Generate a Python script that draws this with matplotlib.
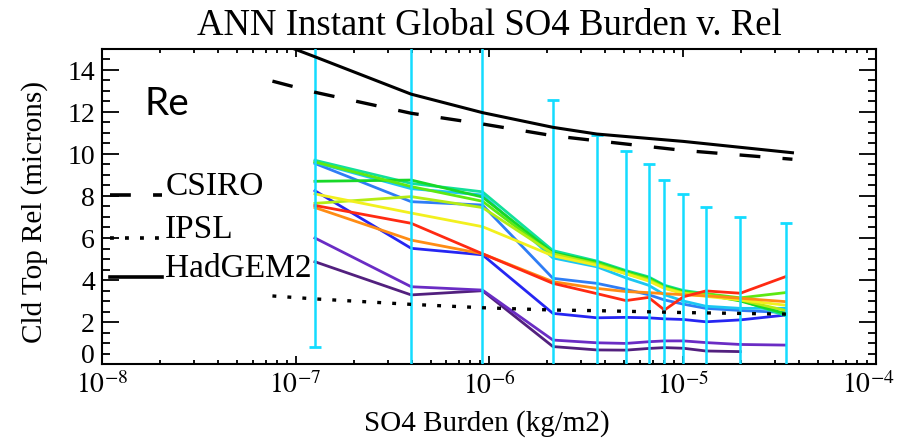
import numpy as np
import matplotlib
matplotlib.use("Agg")
import matplotlib.pyplot as plt
from matplotlib.ticker import MultipleLocator, LogLocator, NullFormatter, FixedLocator
from matplotlib.transforms import ScaledTranslation

plt.rcParams['font.family'] = ['Liberation Serif', 'DejaVu Serif']
plt.rcParams['mathtext.fontset'] = 'stix'
plt.rcParams['lines.scale_dashes'] = False

# ---- data -------------------------------------------------------------
# SO4 burden bin centres (kg/m2)
bin_x = [1.26e-7, 3.96e-7, 9.25e-7, 2.14e-6, 3.61e-6, 5.10e-6,
         6.68e-6, 8.07e-6, 1.01e-5, 1.32e-5, 1.99e-5, 3.41e-5]

# cloud-top effective radius per model (microns)
darkpurple = [4.87, 3.29, 3.49, 0.83, 0.67, 0.66, 0.74, 0.78, 0.75, 0.62, 0.59, np.nan]
purple = [6.00, 3.68, 3.52, 1.14, 1.01, 0.98, 1.06, 1.10, 1.10, 1.02, 0.93, 0.90]
royalblue = [8.25, 5.51, 5.20, 2.41, 2.20, 2.22, 2.20, 2.15, 2.12, 2.01, 2.10, 2.33]
dodgerblue = [9.55, 7.73, 7.57, 4.08, 3.84, 3.55, 3.30, 3.05, 2.85, 2.65, 2.55, 2.45]
lightblue = [9.60, 8.35, 8.05, 5.05, 4.63, 4.10, 3.75, 3.30, 3.00, 2.75, 2.65, 2.65]
springgreen = [9.70, 8.60, 8.20, 5.40, 4.90, 4.45, 4.15, 3.75, 3.50, 3.35, 3.05, 2.30]
green = [8.70, 8.76, 7.95, 5.30, 4.85, 4.40, 4.10, 3.70, 3.45, 3.30, 3.00, 2.40]
lime = [9.62, 8.45, 7.75, 5.20, 4.80, 4.35, 4.05, 3.65, 3.40, 3.35, 3.15, 3.40]
yellowgreen = [7.65, 7.97, 7.45, 5.25, 4.75, 4.30, 4.00, 3.62, 3.38, 3.28, 3.05, 2.55]
yellow = [8.10, 7.19, 6.54, 5.15, 4.70, 4.30, 3.95, 3.60, 3.35, 3.22, 3.05, 2.80]
orange = [7.45, 5.90, 5.25, 3.92, 3.60, 3.45, 3.40, 3.35, 3.30, 3.25, 3.13, 2.97]
red = [7.55, 6.70, 5.25, 3.84, 3.35, 3.02, 3.17, 2.57, 3.20, 3.48, 3.37, 4.16]

# spread of the ensemble in each bin
err_lo = [0.80, -2.0, -2.0, -2.0, -2.0, -2.0, -2.0, -2.0, -2.0, -2.0, -2.0, -2.0]
err_hi = [15.6, 15.6, 15.6, 12.57, 10.90, 10.16, 9.52, 8.76, 8.08, 7.49, 7.02, 6.70]

# reference models
obs_x = [7.6e-8, 1.26e-7, 3.96e-7, 9.25e-7, 2.14e-6, 3.61e-6, 1.01e-5, 3.7e-5]
hadgem2 = [15.40, 14.63, 12.85, 11.97, 11.27, 10.95, 10.60, 10.06]
csiro = [13.47, 12.94, 11.94, 11.43, 10.87, 10.63, 10.17, 9.75]
ipsl = [3.24, 3.10, 2.84, 2.68, 2.57, 2.54, 2.45, 2.37]

legend_names = ['CSIRO', 'IPSL', 'HadGEM2']
legend_levels = [8.05, 6.0, 4.15]

x_ticks = [1e-8, 1e-7, 1e-6, 1e-5, 1e-4]
x_ticklabels = [r'$10^{-8}$', r'$10^{-7}$', r'$10^{-6}$', r'$10^{-5}$', r'$10^{-4}$']

title = 'ANN Instant Global SO4 Burden v. Rel'
xlabel = 'SO4 Burden (kg/m2)'
ylabel = 'Cld Top Rel (microns)'

# ---- figure -------------------------------------------------------------
W, H = 900, 440
fig = plt.figure(figsize=(W / 100, H / 100), dpi=100)
ax = fig.add_axes([102 / W, 1 - 364 / H, 774 / W, 315 / H])
ax.set_xscale('log')
ax.set_xlim(1e-8, 1e-4)
ax.set_ylim(0, 15)

series = [
    (darkpurple, '#52207e'), (purple, '#6a2cc4'), (royalblue, '#2626f2'),
    (dodgerblue, '#2f7df5'), (lightblue, '#1cc6f2'), (springgreen, '#12e09a'),
    (green, '#18d828'), (lime, '#5ee812'), (yellowgreen, '#b4ec14'),
    (yellow, '#f2f01e'), (orange, '#ff8c14'), (red, '#ff2a12'),
]
for vals, col in series:
    ax.plot(bin_x, vals, color=col, lw=2.0, solid_joinstyle='round', zorder=2)

cyan = '#14dcff'
ax.vlines(bin_x, err_lo, err_hi, color=cyan, lw=1.8, zorder=3)
ax.plot(bin_x, err_hi, ls='none', marker='_', ms=8, mew=2, color=cyan, zorder=3)
ax.plot(bin_x, err_lo, ls='none', marker='_', ms=8, mew=2, color=cyan, zorder=3)

dash_style = (0, (15.0, 16.0))
dot_style = (0, (2.8, 8.0))
ax.plot(obs_x, hadgem2, color='black', lw=2.2, zorder=4)
ax.plot(obs_x, csiro, color='black', lw=2.4, ls=dash_style, dash_capstyle='butt', zorder=4)
ax.plot(obs_x, ipsl, color='black', lw=2.4, ls=dot_style, dash_capstyle='butt', zorder=4)

# in-plot legend
styles = [dash_style, dot_style, '-']
for name, lev, st in zip(legend_names, legend_levels, styles):
    ax.plot([1.1e-8, 2.05e-8], [lev, lev], color='black', lw=2.6, ls=st,
            dash_capstyle='butt', zorder=4)
    ax.text(2.12e-8, lev, name, fontsize=24, va='baseline', ha='left', zorder=5)

# axes styling
for sp in ax.spines.values():
    sp.set_linewidth(1.5)
ax.xaxis.set_minor_locator(LogLocator(base=10, subs=np.arange(2, 10), numticks=100))
ax.xaxis.set_minor_formatter(NullFormatter())
ax.set_xticks(x_ticks)
ax.set_xticklabels(x_ticklabels)
ax.yaxis.set_major_locator(FixedLocator(np.arange(0, 15, 2)))
ax.yaxis.set_minor_locator(MultipleLocator(0.5))
ax.tick_params(which='both', direction='in', top=True, right=True, width=1.3)
ax.tick_params(axis='x', which='major', length=5.5, pad=6, labelsize=20)
ax.tick_params(axis='x', which='minor', length=3.0)
ax.tick_params(axis='y', which='major', length=12.5, pad=5, labelsize=20)
ax.tick_params(axis='y', which='minor', length=6.0)

# the "0" label sits a little above its tick, the last x label is pulled in
ylab0 = ax.yaxis.get_major_ticks()[0].label1
ylab0.set_transform(ylab0.get_transform() + ScaledTranslation(0, 0.11, fig.dpi_scale_trans))
xlab_last = ax.xaxis.get_major_ticks()[-1].label1
xlab_last.set_transform(xlab_last.get_transform() + ScaledTranslation(-0.08, 0, fig.dpi_scale_trans))

ax.set_title(title, fontsize=26.5, pad=10)
fig.text(487 / W, 1 - 431 / H, xlabel, fontsize=21, ha='center', va='baseline')
fig.text(35 / W, 1 - 212 / H, ylabel, fontsize=21, ha='center', va='center', rotation=90)
fig.text(145 / W, 1 - 104 / H, 'Re', fontsize=28, ha='left', va='center',
         family=['Lato', 'DejaVu Sans'])

fig.savefig('out.png', dpi=100)
